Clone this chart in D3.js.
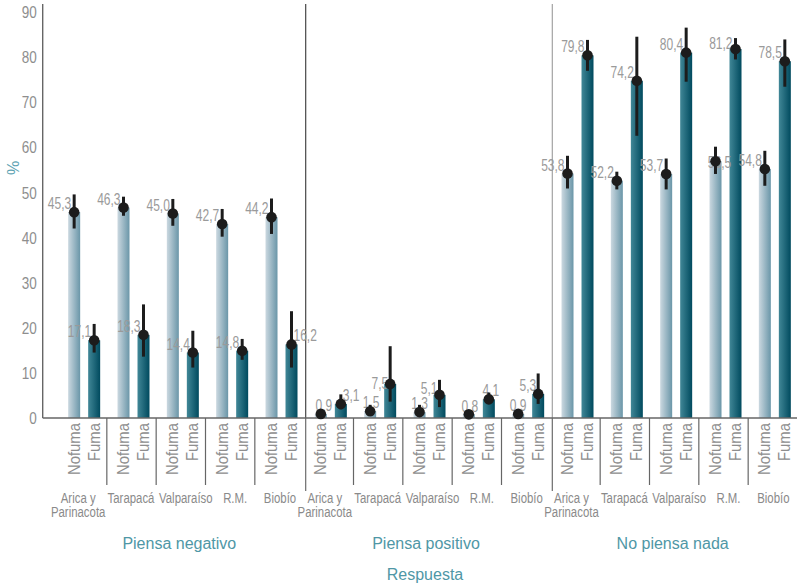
<!DOCTYPE html>
<html>
<head>
<meta charset="utf-8">
<script src="https://cdn.jsdelivr.net/npm/d3@7"></script>
<style>
  html, body { margin: 0; padding: 0; background: #ffffff; }
  svg { display: block; }
  text { font-family: "Liberation Sans", Arial, sans-serif; }
</style>
</head>
<body>
<svg id="chart" width="797" height="587"></svg>
<script>
// ---------------- data ----------------
const regions = ["Piensa negativo", "Piensa positivo", "No piensa nada"];
const subRegions = ["Arica y\nParinacota", "Tarapacá", "Valparaíso", "R.M.", "Biobío"];
const groups = ["Nofuma", "Fuma"];
const yTicks = [0, 10, 20, 30, 40, 50, 60, 70, 80, 90];

// order: region-major, then subRegion
const nofuma     = [45.3, 46.3, 45.0, 42.7, 44.2,  0.9, 1.5, 1.3, 0.8, 0.9,  53.8, 52.2, 53.7, 56.5, 54.8];
const fuma       = [17.1, 18.3, 14.4, 14.8, 16.2,  3.1, 7.5, 5.1, 4.1, 5.3,  79.8, 74.2, 80.4, 81.2, 78.5];
const nofumaLow  = [41.7, 44.5, 42.3, 39.9, 40.5,  0.4, 0.7, 0.6, 0.4, 0.4,  50.5, 50.3, 50.3, 53.7, 51.1];
const nofumaHigh = [49.2, 48.7, 48.2, 46.0, 48.3,  1.6, 2.9, 2.9, 1.3, 1.6,  57.7, 54.2, 57.1, 59.7, 58.8];
const fumaLow    = [14.4, 13.5, 11.1, 12.8, 11.1,  1.9, 3.6, 2.4, 3.2, 3.1,  76.4, 62.1, 74.0, 78.9, 72.9];
const fumaHigh   = [20.7, 25.0, 19.2, 17.4, 23.5,  5.2, 15.8, 8.4, 5.6, 9.8, 83.2, 83.9, 85.9, 83.6, 83.3];

// ---------------- build rows ----------------
const cells = [];
regions.forEach((r, ri) => subRegions.forEach((s, si) => cells.push({ region: r, sub: s, si, key: ri + "|" + si, idx: ri * 5 + si })));
const rows = [];
cells.forEach(c => {
  rows.push({ cell: c, group: "Nofuma", value: nofuma[c.idx], lo: nofumaLow[c.idx], hi: nofumaHigh[c.idx] });
  rows.push({ cell: c, group: "Fuma", value: fuma[c.idx], lo: fumaLow[c.idx], hi: fumaHigh[c.idx] });
});

// label placement tweaks (annotation layout, avoids overlaps as in original)
const labelNudge = {
  "Fuma-4":   { anchor: "start",  dx: 2,  dy: -3 },
  "Nofuma-5": { anchor: "middle", dx: 3,  dy: -3 },
  "Fuma-5":   { anchor: "start",  dx: 2,  dy: -3 },
  "Nofuma-6": { anchor: "middle", dx: 1,  dy: -3 },
  "Fuma-6":   { anchor: "end",    dx: -2, dy: 5 },
  "Nofuma-7": { anchor: "middle", dx: 0,  dy: -3 },
  "Fuma-7":   { anchor: "end",    dx: -2, dy: -1 },
  "Nofuma-8": { anchor: "middle", dx: 1,  dy: -2 },
  "Fuma-8":   { anchor: "middle", dx: 2,  dy: -3 },
  "Nofuma-9": { anchor: "middle", dx: 0,  dy: -3 },
  "Fuma-9":   { anchor: "end",    dx: -2, dy: -3 },
  "Nofuma-13":{ anchor: "middle", dx: 4,  dy: 7 },
  "Fuma-13":  { anchor: "end",    dx: -3, dy: 0 }
};
// horizontal shift of the sub-region captions (as laid out in the original)
const subLabelShift = [-6, -2.5, 3, 3, -1.5];

// ---------------- scales ----------------
const svg = d3.select("#chart");
const axisX = 42.7, baseY = 418, topY = 4;

const x = d3.scaleBand().domain(cells.map(c => c.key)).range([59.5, 799.5]).padding(0);
const xInner = d3.scaleBand().domain(groups).range([-16, 16]).paddingInner(0.4).paddingOuter(0);
const y = d3.scaleLinear().domain([0, 90]).range([baseY, 9]);

const fmt = v => d3.format(".1f")(v).replace(".", ",");

// condensed text helper (no narrow font installed: squeeze horizontally)
function ctext(parent, tx, ty, str, opts) {
  const o = Object.assign({ size: 16, sx: 0.78, fill: "#999", anchor: "start", rotate: 0 }, opts || {});
  return parent.append("text")
    .attr("transform", `translate(${tx},${ty}) rotate(${o.rotate}) scale(${o.sx},1)`)
    .attr("font-size", o.size)
    .attr("fill", o.fill)
    .attr("text-anchor", o.anchor)
    .text(str);
}

// gradients
const defs = svg.append("defs");
const gradSpec = {
  Nofuma: ["#cbd8e0", "#6a96a8"],
  Fuma: ["#418797", "#004a5e"]
};
Object.entries(gradSpec).forEach(([k, [c0, c1]]) => {
  const g = defs.append("linearGradient").attr("id", "g-" + k).attr("x1", "0%").attr("x2", "100%").attr("y1", "0%").attr("y2", "0%");
  g.append("stop").attr("offset", "0%").attr("stop-color", c0);
  g.append("stop").attr("offset", "100%").attr("stop-color", c1);
});

// ---------------- y axis ----------------
const yAxis = d3.axisLeft(y).tickValues(yTicks).tickSize(0).tickPadding(6).tickFormat(d3.format("d"));
const yg = svg.append("g").attr("transform", `translate(${axisX},0)`).call(yAxis);
yg.select(".domain").remove();
yg.selectAll(".tick text").each(function (d) {
  const t = d3.select(this);
  const off = 5.5 + 0.035 * d;
  t.attr("x", null).attr("dy", null).attr("y", null)
    .attr("transform", `translate(-6,${off}) scale(0.82,1)`)
    .attr("font-size", 16.5)
    .attr("fill", "#8e8e8e")
    .attr("font-family", "Liberation Sans, sans-serif")
    .attr("text-anchor", "end");
});

svg.append("line").attr("x1", axisX).attr("x2", axisX).attr("y1", topY).attr("y2", baseY)
  .attr("stroke", "#666").attr("stroke-width", 1.4);

svg.append("text")
  .attr("transform", `translate(19,168) rotate(-90)`)
  .attr("text-anchor", "middle")
  .attr("font-size", 16).attr("fill", "#5ea3b3").text("%");

// ---------------- region separators & sub ticks ----------------
const regionEdges = regions.map((r, ri) => ({
  r, ri,
  x0: ri === 0 ? axisX : x(ri + "|0"),
  x1: x(ri + "|4") + x.bandwidth()
}));

cells.forEach(c => {
  if (c.si > 0) {
    svg.append("line").attr("x1", x(c.key) - 2).attr("x2", x(c.key) - 2)
      .attr("y1", baseY).attr("y2", 485).attr("stroke", "#666").attr("stroke-width", 1.2);
  }
});
regionEdges.slice(1).forEach((e, i) => {
  const xx = e.x0 - 0.5;
  svg.append("line").attr("x1", xx).attr("x2", xx).attr("y1", topY).attr("y2", baseY)
    .attr("stroke", i === 0 ? "#555" : "#aaa").attr("stroke-width", 1.3);
  svg.append("line").attr("x1", xx).attr("x2", xx).attr("y1", baseY).attr("y2", 491)
    .attr("stroke", "#777").attr("stroke-width", 1.3);
});

// ---------------- bars ----------------
const barX = d => x(d.cell.key) + x.bandwidth() / 2 + xInner(d.group);
const cx = d => barX(d) + xInner.bandwidth() / 2;

svg.append("g").selectAll("rect").data(rows).join("rect")
  .attr("x", barX)
  .attr("width", xInner.bandwidth())
  .attr("y", d => y(d.value))
  .attr("height", d => y(0) - y(d.value))
  .attr("fill", d => `url(#g-${d.group})`);

svg.append("line").attr("x1", axisX).attr("x2", 797).attr("y1", baseY).attr("y2", baseY)
  .attr("stroke", "#666").attr("stroke-width", 1.4);

// ---------------- value labels ----------------
const labelG = svg.append("g");
rows.forEach(d => {
  const n = labelNudge[d.group + "-" + d.cell.idx] || { anchor: "end", dx: -3, dy: -3 };
  ctext(labelG, cx(d) + n.dx, y(d.value) + n.dy, fmt(d.value), { size: 16, sx: 0.75, fill: "#9a9a9a", anchor: n.anchor });
});

// ---------------- error bars & dots ----------------
svg.append("g").selectAll("line").data(rows).join("line")
  .attr("x1", cx).attr("x2", cx)
  .attr("y1", d => y(d.lo)).attr("y2", d => y(d.hi))
  .attr("stroke", "#1c1c1c").attr("stroke-width", 3);

svg.append("g").selectAll("circle").data(rows).join("circle")
  .attr("cx", cx).attr("cy", d => y(d.value)).attr("r", 5.3)
  .attr("fill", "#1c1c1c");

// ---------------- x labels (rotated group names) ----------------
const xl = svg.append("g");
rows.forEach(d => {
  ctext(xl, cx(d) + 5.5, baseY + 5, d.group, { size: 16, sx: 0.93, fill: "#8e8e8e", anchor: "end", rotate: -90 });
});

// sub-region labels
const sl = svg.append("g");
cells.forEach(c => {
  c.sub.split("\n").forEach((ln, i) => {
    ctext(sl, x(c.key) + x.bandwidth() / 2 + subLabelShift[c.si], 503 + i * 13.5, ln,
      { size: 15, sx: 0.76, fill: "#8a8a8a", anchor: "middle" });
  });
});

// region labels
regionEdges.forEach(e => {
  const mid = (x(e.ri + "|0") + e.x1) / 2 - 3.5;
  svg.append("text")
    .attr("x", mid).attr("y", 549)
    .attr("text-anchor", "middle")
    .attr("font-size", 16)
    .attr("fill", "#4f97a6")
    .text(e.r);
});

svg.append("text")
  .attr("x", 425).attr("y", 580)
  .attr("text-anchor", "middle")
  .attr("font-size", 16)
  .attr("fill", "#4f97a6")
  .text("Respuesta");
</script>
</body>
</html>
